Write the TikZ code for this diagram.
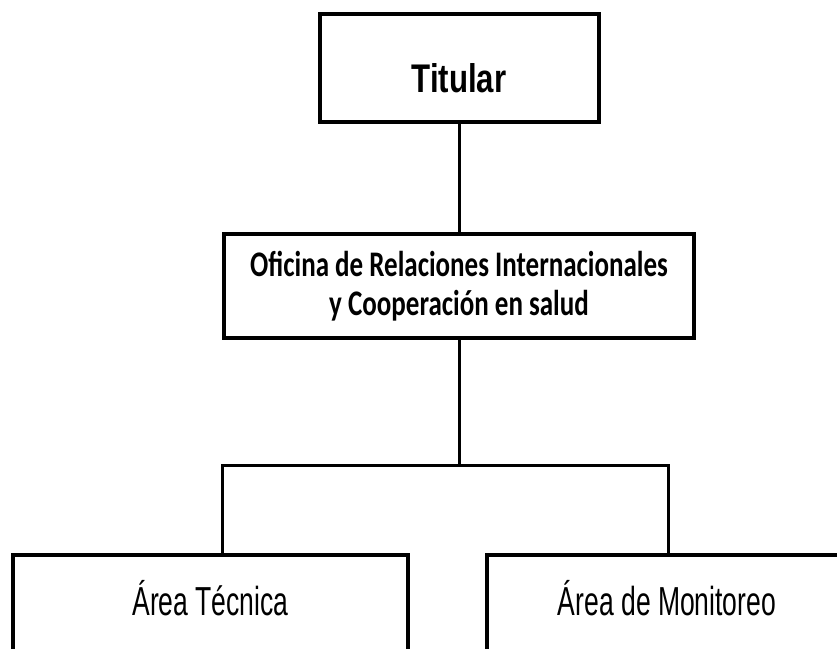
\documentclass[tikz,border=0pt]{standalone}
\usepackage{fontspec}
\setmainfont{Liberation Sans}
\newfontfamily\titfont[FakeStretch=0.78]{Liberation Sans}
\newfontfamily\areafont[FakeStretch=0.655]{Liberation Sans}
\newfontfamily\ofifont[FakeStretch=0.75]{Carlito}
\usetikzlibrary{positioning,calc}

\begin{document}
\begin{tikzpicture}[x=1pt,y=-1pt,
    caja/.style={draw,line width=4pt,inner sep=0pt,fill=white},
    cajatit/.style={caja,anchor=base,font=\titfont\bfseries\fontsize{40}{40}\selectfont},
    cajaofi/.style={caja,align=center,font=\ofifont\bfseries\fontsize{36}{39}\selectfont},
    cajaarea/.style={caja,anchor=base,text height=60pt,text depth=45pt,font=\areafont\fontsize{40.5}{40.5}\selectfont},
    link/.style={line width=3pt}]
    \useasboundingbox (0,0) rectangle (837,648);
    \clip (0,0) rectangle (837,648);

    % Titular
    \node[cajatit,minimum width=279pt,text height=78pt,text depth=30pt] (titular) at (459,92) {Titular};

    % Oficina
    \node[cajaofi,minimum width=470pt,minimum height=104pt] (oficina) at (459,286) {Oficina de Relaciones Internacionales\\y Cooperación en salud};

    % Areas
    \node[cajaarea,minimum width=395pt] (tecnica) at (210.5,615) {Área Técnica};
    \node[cajaarea,minimum width=360pt] (monitoreo) at (667,615) {Área de Monitoreo};

    \coordinate (split) at (459,465);
    \coordinate (lft) at (222,465);
    \coordinate (rgt) at (668,465);

    \draw[link] (titular) -- (oficina);
    \draw[link] (oficina.south) -- (split);
    \draw[link] (tecnica.north -| lft) |- (split) -| (monitoreo.north -| rgt);
\end{tikzpicture}
\end{document}
